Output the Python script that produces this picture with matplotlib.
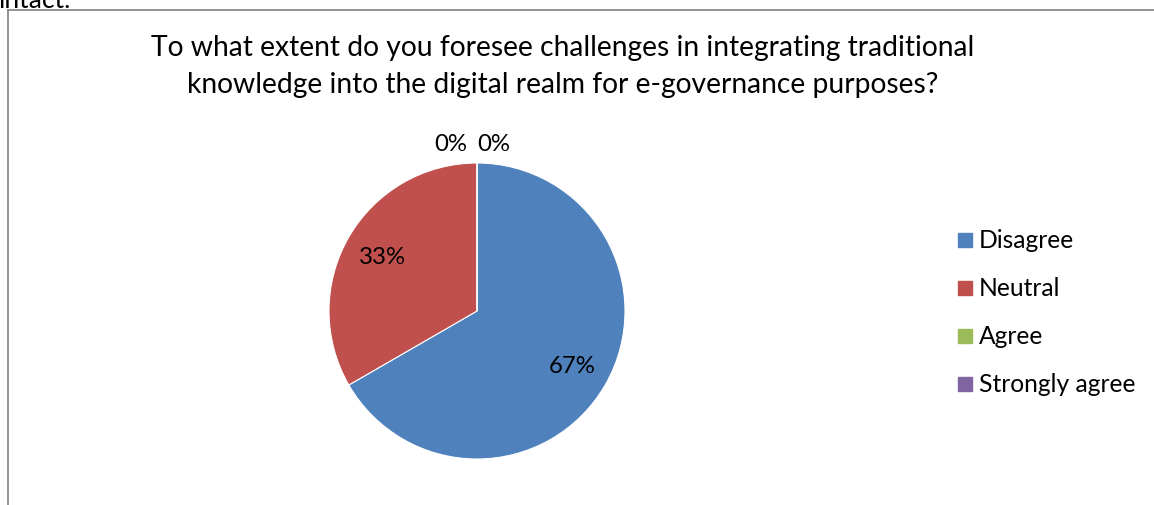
import matplotlib
matplotlib.use("Agg")
import matplotlib.pyplot as plt
import numpy as np
from matplotlib.patches import Rectangle
from matplotlib.lines import Line2D

categories = ["Disagree", "Neutral", "Agree", "Strongly agree"]
values = [2, 1, 0, 0]
colors = ["#4F81BD", "#C0504D", "#9BBB59", "#8064A2"]
title_lines = ["To what extent do you foresee challenges in integrating traditional",
               "knowledge into the digital realm for e-governance purposes?"]

W, H = 1154, 506
FONT = "Lato"
plt.rcParams['font.family'] = [FONT, 'DejaVu Sans']

fig = plt.figure(figsize=(W / 100, H / 100), dpi=100)

def px(x, y):
    return x / W, 1 - y / H

# border of chart area
fig.add_artist(Line2D([8 / W, 8 / W], [0, 1 - 11 / H], color="#8a8a8a", lw=1.3, transform=fig.transFigure))
fig.add_artist(Line2D([8 / W, 1], [1 - 11 / H, 1 - 11 / H], color="#8a8a8a", lw=1.3, transform=fig.transFigure))
# cut-off text above chart (as in the source page)
fig.text(*px(-2, 8), "intact.", fontsize=19, va="baseline", ha="left", color="black")

# title
for line, y in zip(title_lines, [48, 85]):
    fig.text(*px(563, y), line, ha="center", va="center", fontsize=20.3)

# pie
cx, cy, r = 477, 312, 148
ax = fig.add_axes([(cx - r) / W, 1 - (cy + r) / H, 2 * r / W, 2 * r / H])
total = sum(values)
wedges, _ = ax.pie(values, colors=colors, startangle=90, counterclock=False,
                   radius=1.0, wedgeprops=dict(linewidth=0.8, edgecolor="white"))
ax.set_xlim(-1, 1)
ax.set_ylim(-1, 1)
ax.set_aspect("equal")
ax.axis("off")

zero_offsets = [-0.175, 0.115]
zi = 0
for w, v in zip(wedges, values):
    pct = f"{round(100 * v / total)}%"
    mid = np.deg2rad((w.theta1 + w.theta2) / 2)
    if v > 0:
        d = 0.74
        ax.text(d * np.cos(mid), d * np.sin(mid), pct, ha="center", va="center", fontsize=17.3)
    else:
        d = 1.13
        ax.text(d * np.cos(mid) + zero_offsets[zi], d * np.sin(mid), pct,
                ha="center", va="center", fontsize=17.3, clip_on=False)
        zi += 1

# legend
legend_y = [241, 289, 337, 385]
for cat, col, y in zip(categories, colors, legend_y):
    fig.add_artist(Rectangle(px(958, y + 7), 14 / W, 14 / H, color=col, transform=fig.transFigure))
    fig.text(*px(979, y), cat, ha="left", va="center", fontsize=17.7)

fig.savefig("out.png", dpi=100)
